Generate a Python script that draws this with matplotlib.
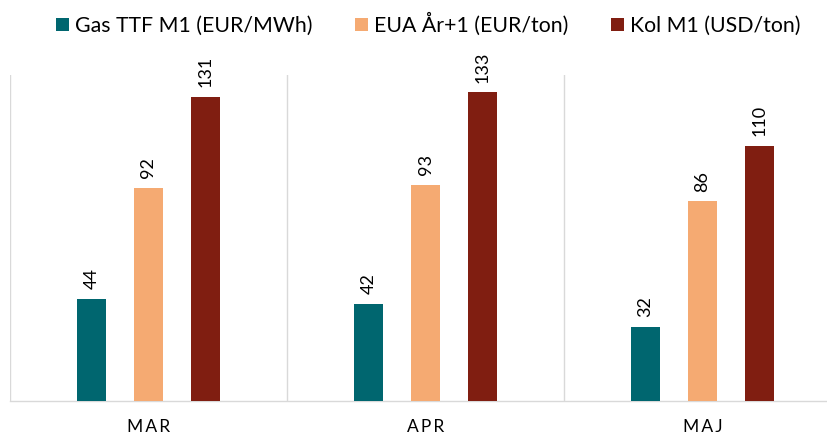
import matplotlib

matplotlib.use("Agg")
import matplotlib.pyplot as plt
from matplotlib.patches import Patch
import numpy as np

months = ["M\u2009A\u2009R", "A\u2009P\u2009R", "M\u2009A\u2009J"]
series_names = ["Gas TTF M1 (EUR/MWh)", "EUA År+1 (EUR/ton)", "Kol M1 (USD/ton)"]
gas = [44, 42, 32]
eua = [92, 93, 86]
kol = [131, 133, 110]

colors = ["#00666F", "#F5AA72", "#801E11"]
grid_color = "#D9D9D9"

plt.rcParams["font.family"] = ["Lato", "DejaVu Sans"]

fig = plt.figure(figsize=(8.27, 4.34), dpi=100)
ax = fig.add_axes([10 / 827, 33 / 434, 1 - 10 / 827, 326 / 434])

x = np.arange(len(months))
bar_w = 0.105
step = 0.206
for i, (vals, color) in enumerate(zip([gas, eua, kol], colors)):
    pos = x + (i - 1) * step
    ax.bar(pos, vals, width=bar_w, color=color, zorder=3)
    for px, v in zip(pos, vals):
        ax.annotate(str(v), (px, v), xytext=(0, 7), textcoords="offset points",
                    rotation=90, ha="center", va="bottom", fontsize=13,
                    color="#000000")

# separators between groups
for sep in np.arange(len(months) + 1) - 0.5:
    ax.axvline(sep, color=grid_color, lw=1.0, zorder=1)

ax.set_xlim(-0.5, -0.5 + 817 / 277)
ax.set_ylim(0, 140.5)
ax.set_yticks([])
ax.set_xticks(x)
ax.set_xticklabels(months, fontsize=12.5)
ax.tick_params(axis="x", length=0, pad=13)
for side in ["top", "right", "left"]:
    ax.spines[side].set_visible(False)
ax.spines["bottom"].set_color(grid_color)
ax.spines["bottom"].set_linewidth(1.0)

handles = [Patch(facecolor=c, edgecolor="none") for c in colors]
fig.legend(handles, series_names, loc="upper center", bbox_to_anchor=(0.518, 1.015),
           ncol=3, frameon=False, fontsize=15.3, handlelength=0.6, handleheight=0.6,
           handletextpad=0.3, columnspacing=2.0)

fig.savefig("out.png", dpi=100)
